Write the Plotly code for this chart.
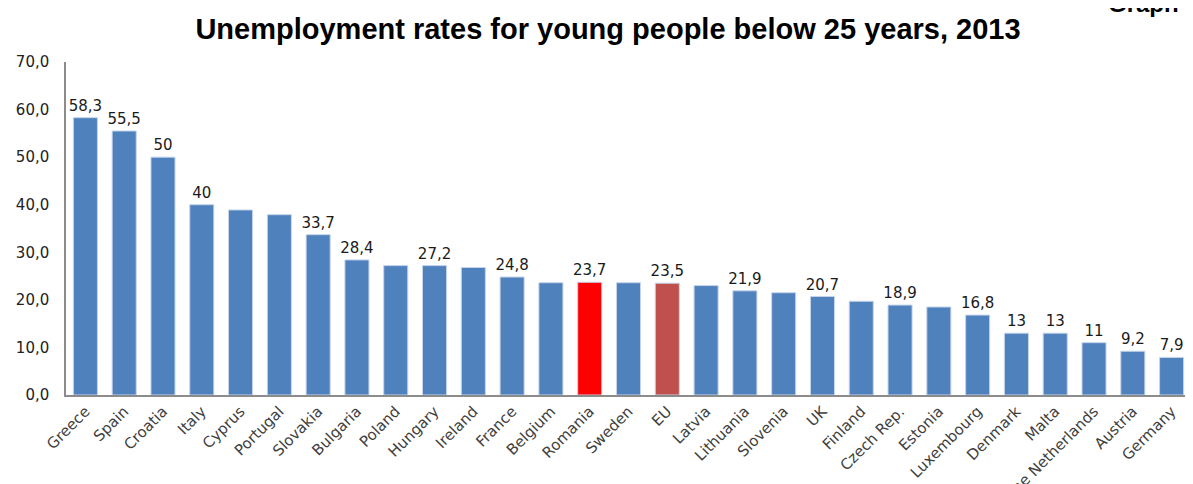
import plotly.graph_objects as go

countries = ["Greece", "Spain", "Croatia", "Italy", "Cyprus", "Portugal", "Slovakia", "Bulgaria",
             "Poland", "Hungary", "Ireland", "France", "Belgium", "Romania", "Sweden", "EU",
             "Latvia", "Lithuania", "Slovenia", "UK", "Finland", "Czech Rep.", "Estonia",
             "Luxembourg", "Denmark", "Malta", "The Netherlands", "Austria", "Germany"]
rates = [58.3, 55.5, 50.0, 40.0, 38.9, 37.9, 33.7, 28.4,
         27.2, 27.2, 26.8, 24.8, 23.6, 23.7, 23.6, 23.5,
         23.0, 21.9, 21.5, 20.7, 19.7, 18.9, 18.5,
         16.8, 13.0, 13.0, 11.0, 9.2, 7.9]
labels = ["58,3", "55,5", "50", "40", "", "", "33,7", "28,4",
          "", "27,2", "", "24,8", "", "23,7", "", "23,5",
          "", "21,9", "", "20,7", "", "18,9", "",
          "16,8", "13", "13", "11", "9,2", "7,9"]
y_ticks = [0, 10, 20, 30, 40, 50, 60, 70]
y_tick_text = ["0,0", "10,0", "20,0", "30,0", "40,0", "50,0", "60,0", "70,0"]

BLUE = "#4F81BD"
colors = []
for c in countries:
    if c == "Romania":
        colors.append("#FF0000")
    elif c == "EU":
        colors.append("#C0504D")
    else:
        colors.append(BLUE)

# page body adds an 8px offset; figure is sized to fill the rest of the window
OFF = 8
W, H = 1193 - OFF, 484 - OFF
L, R = 66 - OFF, 2
T = 62 - OFF
B = H - (395 - OFF)

fig = go.Figure(go.Bar(
    x=countries, y=rates,
    marker=dict(color=colors, line=dict(color="#C6D5EA", width=1)),
    text=labels, textposition="outside", cliponaxis=False, constraintext="none",
    textfont=dict(family="DejaVu Sans", size=15, color="#1a1a1a"),
))

fig.update_layout(
    width=W, height=H,
    margin=dict(l=L, r=R, t=T, b=B, autoexpand=False),
    paper_bgcolor="white", plot_bgcolor="white",
    bargap=0.38,
    showlegend=False,
    title=dict(text="<b>Unemployment rates for young people below 25 years, 2013</b>",
               x=(608 - OFF) / W, xanchor="center", xref="container",
               y=1 - (29 - OFF) / H, yanchor="middle", yref="container",
               font=dict(family="Liberation Sans", size=29, color="black")),
    xaxis=dict(tickangle=-45, showline=True, linecolor="#8c8c8c", linewidth=1.5,
               ticks="", showgrid=False,
               tickfont=dict(family="DejaVu Sans", size=15, color="#404040")),
    yaxis=dict(range=[0, 70], tickvals=y_ticks, ticktext=y_tick_text,
               showline=True, linecolor="#8c8c8c", linewidth=1.5,
               ticks="", showgrid=False, zeroline=False, ticklabelstandoff=12,
               tickfont=dict(family="DejaVu Sans", size=15, color="#222222")),
)

ph = H - T - B
fig.add_annotation(text="<b>Graph</b>", xref="paper", yref="paper",
                   x=(1143 - OFF - L) / (W - L - R), y=(H - B + 4) / ph,
                   xanchor="center", yanchor="middle", showarrow=False,
                   font=dict(family="Liberation Sans", size=24, color="black"))

fig.write_html("out.html")
